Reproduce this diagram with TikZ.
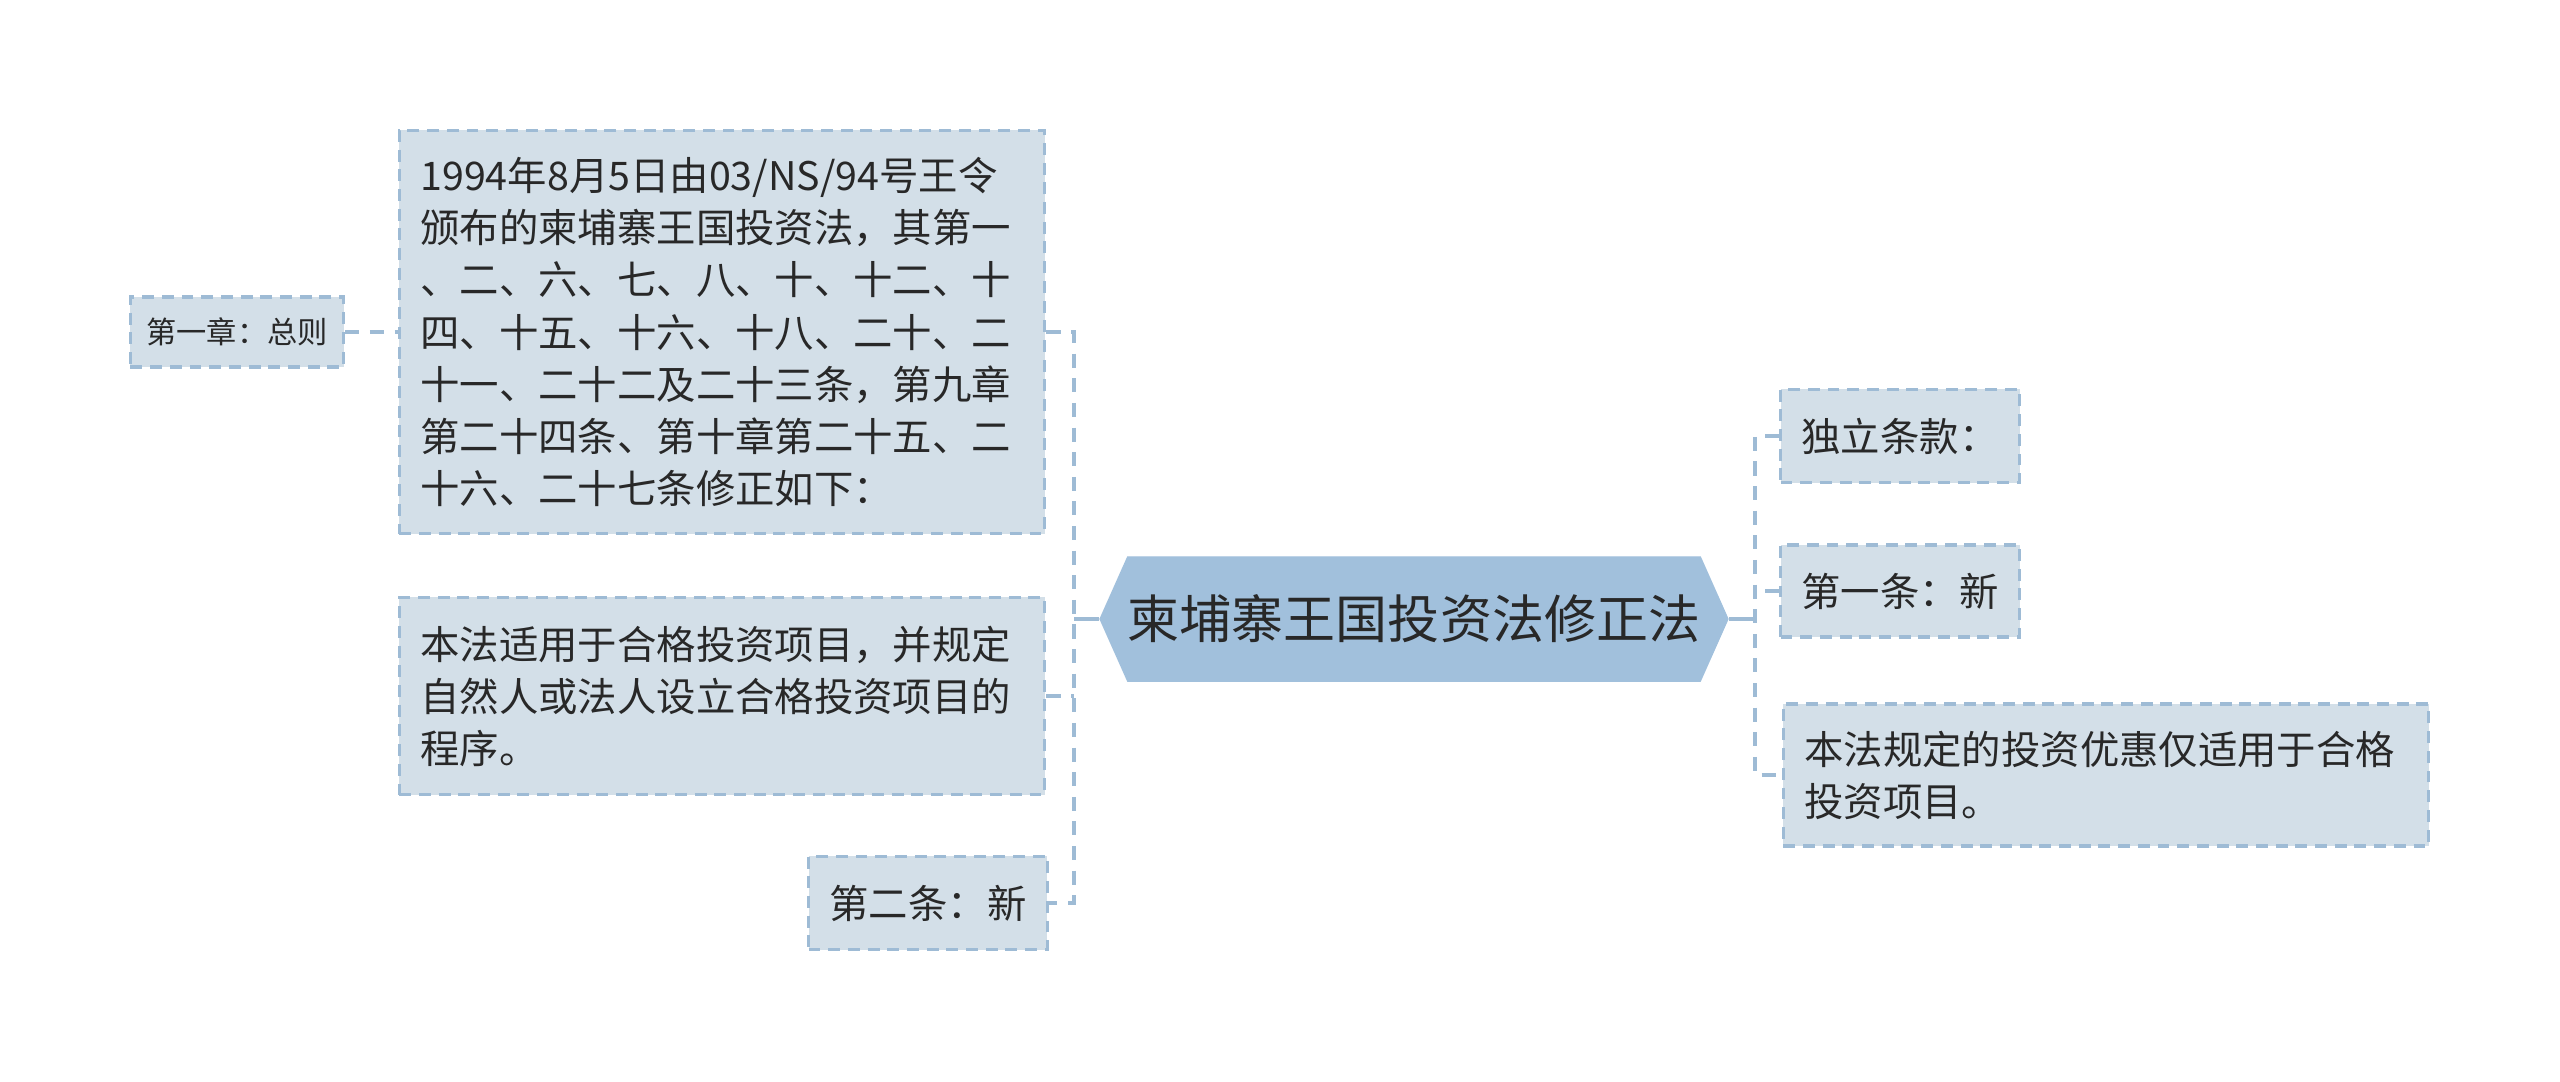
\documentclass[tikz,border=0pt]{standalone}
\usepackage{fontspec}
\setmainfont{Noto Sans CJK SC}
\usetikzlibrary{shapes.symbols}
\definecolor{mmfill}{RGB}{211,223,232}
\definecolor{mmedge}{RGB}{158,187,213}
\definecolor{mmroot}{RGB}{161,192,220}
\definecolor{mmtext}{RGB}{40,40,40}

\begin{document}
\begin{tikzpicture}[x=0.01cm, y=-0.01cm,
  leaf/.style={fill=mmfill, draw=mmedge, line width=1pt, dash pattern=on 3.4pt off 2.2pt,
    inner xsep=0.21cm, inner ysep=0.1cm, text=mmtext, font=\fontsize{11.2}{14.8}\selectfont},
  longleaf/.style={leaf, align=left, text width=6.03cm},
  root/.style={signal, signal to=west and east, signal pointer angle=132, fill=mmroot,
    draw=mmroot, inner sep=0pt, minimum width=6.25cm, minimum height=1.24cm,
    text=mmtext, font=\fontsize{14.8}{18}\selectfont},
  branch/.style={draw=mmedge, line width=1.1pt, dash pattern=on 4pt off 3pt},
  trunk/.style={draw=mmedge, line width=1.2pt}]
\useasboundingbox (0,0) rectangle (2560,1081);
% Root (center)
\node[root] (root) at (1414,619) {柬埔寨王国投资法修正法};
% Left branch
\node[longleaf, minimum height=4.03cm] (law) at (722,332) {1994年8月5日由03/NS/94号王令\\颁布的柬埔寨王国投资法，其第一\\、二、六、七、八、十、十二、十\\四、十五、十六、十八、二十、二\\十一、二十二及二十三条，第九章\\第二十四条、第十章第二十五、二\\十六、二十七条修正如下：};
\node[longleaf, minimum height=1.97cm] (scope) at (722,696) {本法适用于合格投资项目，并规定\\自然人或法人设立合格投资项目的\\程序。};
\node[leaf, minimum width=2.34cm, minimum height=0.93cm] (art2) at (928,903) {第二条：新};
\node[leaf, inner xsep=0.1cm, font=\fontsize{8.6}{10}\selectfont, minimum width=2.13cm, minimum height=0.7cm] (chap1) at (237,332) {第一章：总则};
% Right branch
\node[leaf, minimum width=2.35cm, minimum height=0.93cm] (indep) at (1900,436) {独立条款：};
\node[leaf, minimum width=2.35cm, minimum height=0.92cm] (art1) at (1900,591) {第一条：新};
\node[longleaf, minimum height=1.42cm] (benefit) at (2106,775) {本法规定的投资优惠仅适用于合格\\投资项目。};
% Spines
\coordinate (lsp) at (1074,619);
\coordinate (rsp) at (1755,619);
\draw[trunk] (root.west) -- (lsp);
\draw[trunk] (root.east) -- (rsp);
\draw[branch] (law.east) -- (law.east -| lsp) -- (art2.east -| lsp) -- (art2.east);
\draw[branch] (scope.east) -- (scope.east -| lsp);
\draw[branch] (chap1.east) -- (chap1.east -| law.west);
\draw[branch] (indep.west) -- (indep.west -| rsp) -- (benefit.west -| rsp) -- (benefit.west);
\draw[branch] (art1.west) -- (art1.west -| rsp);
\end{tikzpicture}
\end{document}
